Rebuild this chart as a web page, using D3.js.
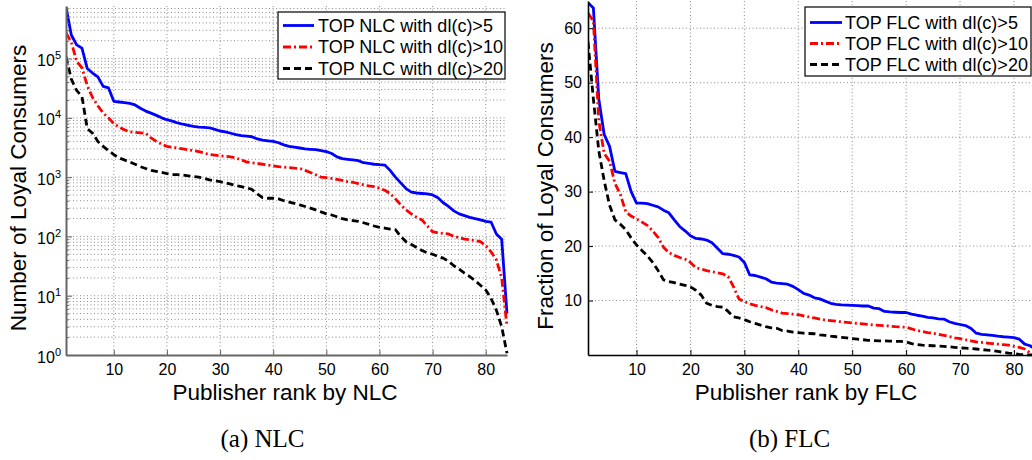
<!DOCTYPE html>
<html>
<head>
<meta charset="utf-8">
<script src="https://cdn.jsdelivr.net/npm/d3@7"></script>
<style>
body { margin: 0; background: #fff; }
svg { display: block; }
text { font-family: "Liberation Sans", Arial, sans-serif; fill: #000; }
</style>
</head>
<body>
<svg id="chart" width="1032" height="460"></svg>
<script>
// publisher ranks 1..84
const ranks = d3.range(1, 85);

// (a) number of loyal consumers
const nlc5 = [740000, 250000, 170000, 150000, 68000, 57000, 49000, 34000, 32000, 19000,
    18500, 18000, 17500, 16500, 14500, 13000, 12000, 11000, 10000, 9300,
    8800, 8200, 7800, 7500, 7200, 7000, 6900, 6800, 6400, 6000,
    5800, 5500, 5200, 5000, 4900, 4800, 4400, 4200, 4100, 4000,
    3800, 3500, 3300, 3200, 3100, 3000, 2950, 2900, 2800, 2700,
    2500, 2200, 2050, 2000, 1950, 1900, 1750, 1700, 1650, 1620,
    1600, 1300, 1000, 800, 640, 560, 540, 530, 520, 500,
    450, 370, 320, 270, 240, 225, 210, 200, 190, 180,
    175, 110, 90, 5];
const nlc10 = [270000, 190000, 90000, 70000, 35000, 22000, 16000, 12000, 10000, 8000,
    7000, 6300, 5800, 5700, 5600, 5500, 4600, 4000, 3600, 3300,
    3200, 3100, 3000, 2900, 2800, 2700, 2550, 2400, 2350, 2300,
    2250, 2200, 2100, 1950, 1800, 1750, 1700, 1650, 1600, 1550,
    1500, 1480, 1450, 1420, 1400, 1300, 1200, 1100, 1000, 980,
    950, 920, 880, 840, 820, 780, 740, 710, 690, 650,
    600, 530, 430, 340, 280, 240, 210, 190, 150, 120,
    115, 112, 110, 100, 95, 90, 88, 85, 82, 70,
    55, 40, 20, 3];
const nlc20 = [107000, 45000, 29000, 23000, 6600, 5500, 4000, 3300, 2800, 2400,
    2100, 1950, 1800, 1650, 1500, 1400, 1300, 1250, 1200, 1150,
    1100, 1100, 1080, 1050, 1020, 1000, 950, 900, 870, 840,
    800, 760, 720, 690, 660, 620, 520, 450, 440, 440,
    430, 400, 380, 360, 340, 320, 300, 280, 260, 240,
    230, 215, 200, 190, 185, 180, 170, 160, 150, 142,
    138, 133, 130, 100, 81, 73, 65, 58, 53, 50,
    46, 43, 38, 32, 28, 24, 21, 18, 15, 12.5,
    9, 5.7, 3, 1.07];

// (b) fraction of loyal consumers (%)
const flc5 = [64.7, 63.7, 47, 40.5, 38.3, 33.7, 33.5, 33.3, 30, 27.9,
    27.9, 27.8, 27.5, 27.2, 26.6, 26.1, 24.8, 23.6, 22.8, 21.9,
    21.4, 21.3, 21.1, 20.6, 19.6, 18.6, 18.5, 18.3, 18.0, 17.0,
    14.7, 14.6, 14.3, 14.0, 13.4, 13.2, 13.1, 13.0, 12.6, 12.0,
    11.3, 11.0, 10.5, 10.3, 9.9, 9.5, 9.3, 9.2, 9.15, 9.1,
    9.05, 9.0, 9.0, 8.6, 8.5, 8.0, 7.9, 7.85, 7.8, 7.8,
    7.5, 7.3, 7.15, 6.9, 6.8, 6.65, 6.6, 6.1, 5.8, 5.6,
    5.4, 4.9, 4.0, 3.8, 3.7, 3.6, 3.45, 3.35, 3.3, 3.2,
    2.9, 2.0, 1.7, 1.0];
const flc10 = [62.8, 61.3, 43, 37, 35.6, 31.5, 29.5, 26.3, 25.5, 25.0,
    24.4, 23.8, 22.8, 21.6, 19.8, 18.8, 18.3, 17.9, 17.6, 17.0,
    16.0, 15.8, 15.5, 15.3, 15.1, 14.9, 14.4, 12.5, 10.3, 9.8,
    9.4, 9.1, 8.9, 8.7, 8.3, 8.0, 7.7, 7.6, 7.5, 7.4,
    7.2, 7.0, 6.8, 6.6, 6.4, 6.3, 6.2, 6.1, 6.0, 5.9,
    5.8, 5.7, 5.6, 5.5, 5.45, 5.4, 5.3, 5.2, 5.15, 5.1,
    4.8, 4.5, 4.3, 4.1, 4.0, 3.8, 3.6, 3.4, 3.15, 3.0,
    2.8, 2.6, 2.4, 2.3, 2.2, 2.1, 2.0, 1.9, 1.8, 1.6,
    1.4, 1.1, 0.4, 0.2];
const flc20 = [57.5, 47, 37.5, 32, 27.5, 24.8, 24, 23, 21.5, 20.2,
    19.2, 18.2, 17, 15.5, 13.8, 13.5, 13.3, 13.0, 12.8, 12.5,
    11.9, 11.0, 9.5, 9.1, 8.9, 8.8, 8.0, 7.0, 6.8, 6.5,
    6.1, 5.8, 5.5, 5.2, 5.0, 4.9, 4.5, 4.4, 4.2, 4.1,
    4.0, 3.95, 3.9, 3.7, 3.6, 3.45, 3.35, 3.25, 3.15, 3.0,
    2.9, 2.8, 2.7, 2.65, 2.6, 2.6, 2.55, 2.5, 2.5, 2.4,
    2.1, 1.9, 1.8, 1.75, 1.7, 1.65, 1.6, 1.5, 1.4, 1.3,
    1.25, 1.2, 1.1, 1.0, 0.9, 0.8, 0.65, 0.5, 0.35, 0.25,
    0.1, 0.05, 0.02, 0.01];

const xTicks = [10, 20, 30, 40, 50, 60, 70, 80];
const nlcExponents = [0, 1, 2, 3, 4, 5];
const flcTicks = [10, 20, 30, 40, 50, 60];
const nlcLegend = ["TOP NLC with dl(c)>5", "TOP NLC with dl(c)>10", "TOP NLC with dl(c)>20"];
const flcLegend = ["TOP FLC with dl(c)>5", "TOP FLC with dl(c)>10", "TOP FLC with dl(c)>20"];

// line styles: solid blue, dash-dot red, dashed black
const styles = [
    {color: "#0000ff", dash: null},
    {color: "#ff0000", dash: "8,3,2,3"},
    {color: "#000000", dash: "7,4"}
];

const svg = d3.select("#chart");

function gridLine(g, x1, y1, x2, y2) {
    g.append("line")
        .attr("x1", x1).attr("y1", y1).attr("x2", x2).attr("y2", y2)
        .attr("stroke", "#8a8a8a")
        .attr("stroke-width", 1)
        .attr("stroke-dasharray", "1,2.5");
}

function drawLines(g, x, y, series, clipId, box) {
    svg.append("clipPath").attr("id", clipId)
        .append("rect")
        .attr("x", box.x0).attr("y", box.y0 - 2)
        .attr("width", box.x1 - box.x0 + 2).attr("height", box.y1 - box.y0 + 4);

    let line = d3.line()
        .x((d, i) => x(ranks[i]))
        .y(d => y(d));

    g.append("g").attr("clip-path", `url(#${clipId})`)
        .selectAll("path")
        .data(series)
        .join("path")
        .attr("d", line)
        .attr("fill", "none")
        .attr("stroke", (d, i) => styles[i].color)
        .attr("stroke-width", 2.8)
        .attr("stroke-dasharray", (d, i) => styles[i].dash)
        .attr("stroke-linejoin", "round");
}

function drawLegend(g, x0, y0, w, h, labels, sampleX, textX, baselines) {
    g.append("rect")
        .attr("x", x0).attr("y", y0).attr("width", w).attr("height", h)
        .attr("fill", "#fff").attr("stroke", "#000").attr("stroke-width", 1.2);
    labels.forEach((lab, i) => {
        g.append("line")
            .attr("x1", sampleX[0]).attr("x2", sampleX[1])
            .attr("y1", baselines[i] - 6).attr("y2", baselines[i] - 6)
            .attr("stroke", styles[i].color)
            .attr("stroke-width", 2.8)
            .attr("stroke-dasharray", styles[i].dash);
        g.append("text")
            .attr("x", textX).attr("y", baselines[i])
            .attr("font-size", 18)
            .text(lab);
    });
}

// ---------- (a) NLC ----------
{
    const box = {x0: 66, x1: 507, y0: 6, y1: 355};
    const x = d3.scaleLinear().domain([1, 84]).range([box.x0, box.x1]);
    const y = d3.scaleLog().domain([1, 7.7e5]).range([box.y1, box.y0]);
    const g = svg.append("g");

    //grid: minor + major horizontal, vertical at x ticks
    const grid = g.append("g");
    nlcExponents.forEach(e => {
        for (let m = 1; m <= 9; m++) {
            let v = m * Math.pow(10, e);
            if (v <= 1 || v > 7.7e5) continue;
            gridLine(grid, box.x0, y(v), box.x1, y(v));
        }
    });
    xTicks.forEach(t => gridLine(grid, x(t), box.y0, x(t), box.y1));

    drawLines(g, x, y, [nlc5, nlc10, nlc20], "clipA", box);

    //axes
    const xAxis = g.append("g")
        .attr("transform", `translate(0,${box.y1})`)
        .call(d3.axisBottom(x).tickValues(xTicks).tickSizeInner(-5).tickSizeOuter(0).tickPadding(9));
    const yAxis = g.append("g")
        .attr("transform", `translate(${box.x0},0)`)
        .call(d3.axisLeft(y).tickValues(nlcExponents.map(e => Math.pow(10, e))).tickFormat("").tickSizeInner(-6).tickSizeOuter(0));
    const minorVals = [];
    nlcExponents.forEach(e => {
        for (let m = 2; m <= 9; m++) if (m * Math.pow(10, e) <= 7.7e5) minorVals.push(m * Math.pow(10, e));
    });
    g.append("g")
        .attr("transform", `translate(${box.x0},0)`)
        .call(d3.axisLeft(y).tickValues(minorVals).tickFormat("").tickSizeInner(-3).tickSizeOuter(0))
        .call(a => a.select(".domain").remove());
    [xAxis, yAxis].forEach(a => {
        a.select(".domain").attr("stroke", "#666").attr("stroke-width", 2);
        a.selectAll("text").attr("font-size", 16);
    });
    g.selectAll(".tick line").attr("stroke", "#666");

    //log tick labels with superscripts
    nlcExponents.forEach(e => {
        let t = g.append("text")
            .attr("x", 61).attr("y", y(Math.pow(10, e)) + 7.5)
            .attr("text-anchor", "end")
            .attr("font-size", 16);
        t.append("tspan").text("10");
        t.append("tspan").attr("dy", -7).attr("font-size", 11).text(e);
    });

    g.append("text")
        .attr("transform", "translate(26,188) rotate(-90)")
        .attr("text-anchor", "middle")
        .attr("font-size", 22.5)
        .text("Number of Loyal Consumers");
    g.append("text")
        .attr("x", 285).attr("y", 399.5)
        .attr("text-anchor", "middle")
        .attr("font-size", 22.5)
        .text("Publisher rank by NLC");

    drawLegend(g, 278, 12, 227, 67, nlcLegend, [283, 314], 318, [31.5, 53, 74.5]);

    g.append("text")
        .attr("x", 262.5).attr("y", 447)
        .attr("text-anchor", "middle")
        .attr("font-size", 25)
        .style("font-family", "'Liberation Serif', 'Times New Roman', serif")
        .text("(a) NLC");
}

// ---------- (b) FLC ----------
{
    const box = {x0: 588, x1: 1035.5, y0: 1, y1: 355};
    const x = d3.scaleLinear().domain([1, 84]).range([box.x0, box.x1]);
    const y = d3.scaleLinear().domain([0, 65]).range([box.y1, box.y0]);
    const g = svg.append("g");

    const grid = g.append("g");
    flcTicks.forEach(t => gridLine(grid, box.x0, y(t), box.x1, y(t)));
    xTicks.forEach(t => gridLine(grid, x(t), box.y0, x(t), box.y1));

    drawLines(g, x, y, [flc5, flc10, flc20], "clipB", box);

    const xAxis = g.append("g")
        .attr("transform", `translate(0,${box.y1})`)
        .call(d3.axisBottom(x).tickValues(xTicks).tickSizeInner(-5).tickSizeOuter(0).tickPadding(9));
    const yAxis = g.append("g")
        .attr("transform", `translate(${box.x0},0)`)
        .call(d3.axisLeft(y).tickValues(flcTicks).tickSizeInner(-5).tickSizeOuter(0).tickPadding(6));
    [xAxis, yAxis].forEach(a => {
        a.select(".domain").attr("stroke", "#000").attr("stroke-width", 1.6);
        a.selectAll(".tick line").attr("stroke", "#000");
        a.selectAll("text").attr("font-size", 16);
    });

    g.append("text")
        .attr("transform", "translate(553,186) rotate(-90)")
        .attr("text-anchor", "middle")
        .attr("font-size", 22.5)
        .text("Fraction of Loyal Consumers");
    g.append("text")
        .attr("x", 806).attr("y", 399.5)
        .attr("text-anchor", "middle")
        .attr("font-size", 22.5)
        .text("Publisher rank by FLC");

    drawLegend(g, 805, 7, 226, 69, flcLegend, [810, 842], 845, [28.5, 49.5, 70.5]);

    g.append("text")
        .attr("x", 789.5).attr("y", 447)
        .attr("text-anchor", "middle")
        .attr("font-size", 25)
        .style("font-family", "'Liberation Serif', 'Times New Roman', serif")
        .text("(b) FLC");
}
</script>
</body>
</html>
